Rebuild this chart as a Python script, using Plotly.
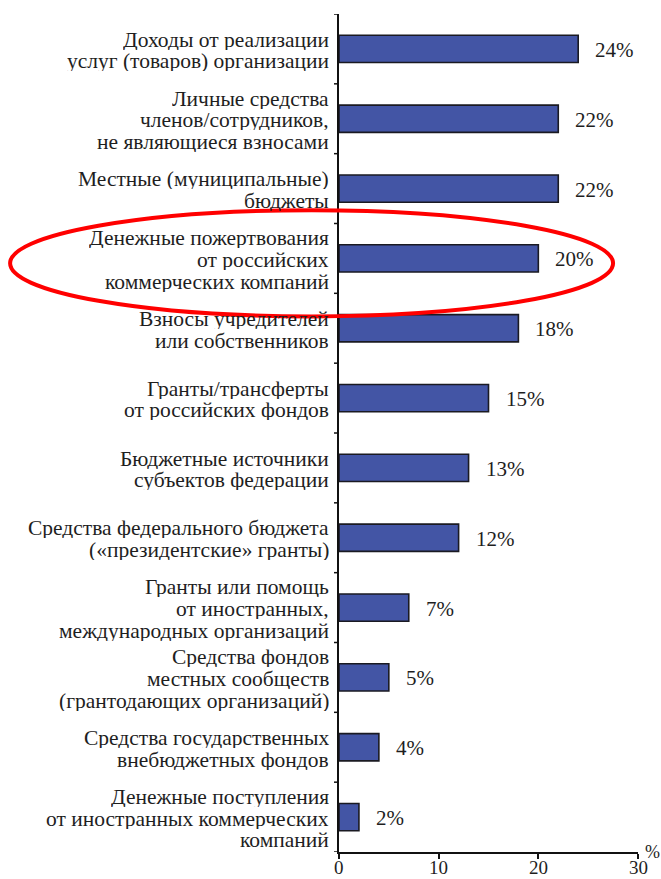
import plotly.graph_objects as go

# category labels, one entry per line of each label
categories = [
    ["Доходы от реализации", "услуг (товаров) организации"],
    ["Личные средства", "членов/сотрудников,", "не являющиеся взносами"],
    ["Местные (муниципальные)", "бюджеты"],
    ["Денежные пожертвования", "от российских", "коммерческих компаний"],
    ["Взносы учредителей", "или собственников"],
    ["Гранты/трансферты", "от российских фондов"],
    ["Бюджетные источники", "субъектов федерации"],
    ["Средства федерального бюджета", "(«президентские» гранты)"],
    ["Гранты или помощь", "от иностранных,", "международных организаций"],
    ["Средства фондов", "местных сообществ", "(грантодающих организаций)"],
    ["Средства государственных", "внебюджетных фондов"],
    ["Денежные поступления", "от иностранных коммерческих", "компаний"],
]
values = [24, 22, 22, 20, 18, 15, 13, 12, 7, 5, 4, 2]
x_ticks = [0, 10, 20, 30]
highlight_index = 3

FONT = "Liberation Serif"
TEXT = "#1e1e1e"
AXIS = "#111111"
FS = 21.5
LINE_H = 21.7

W, H = 661, 879
ML, MR, MT, MB = 339, 23, 14, 27
X_MAX = 30
n = len(categories)

fig = go.Figure()
fig.add_trace(go.Bar(
    x=values,
    y=list(range(n)),
    orientation="h",
    width=0.39,
    marker=dict(color="#4355a5", line=dict(color="#1a1a22", width=1.6)),
    hoverinfo="skip",
))

# multi-line category labels, right-aligned against the axis
for i, lines in enumerate(categories):
    m = len(lines)
    for j, line in enumerate(lines):
        fig.add_annotation(
            x=0, y=i, xref="paper", yref="y",
            text=line, showarrow=False,
            xanchor="right", yanchor="middle", align="right",
            height=21, valign="middle", borderpad=0,
            xshift=-9, yshift=-((j - (m - 1) / 2) * LINE_H) - 1,
            font=dict(family=FONT, size=FS, color=TEXT),
        )

# value labels next to the bars
for i, v in enumerate(values):
    fig.add_annotation(
        x=v, y=i, xref="x", yref="y",
        text=f"{v}%", showarrow=False,
        xanchor="left", yanchor="middle", xshift=15, yshift=-1,
        font=dict(family=FONT, size=21, color=TEXT),
    )

# value-axis tick labels, set close under the tick marks
for t in x_ticks:
    fig.add_annotation(
        x=t, y=0, xref="x", yref="paper",
        text=str(t), showarrow=False,
        xanchor="center", yanchor="top", yshift=-4, borderpad=0,
        font=dict(family=FONT, size=19, color=TEXT),
    )

# "%" unit marker at the end of the value axis
fig.add_annotation(
    x=1, y=0, xref="paper", yref="paper",
    text="%", showarrow=False, xanchor="left", yanchor="middle",
    xshift=5, yshift=0, font=dict(family=FONT, size=18, color=TEXT),
)

# category axis boundary ticks
for k in range(n + 1):
    fig.add_shape(
        type="line", xref="paper", yref="y",
        x0=-5 / (W - ML - MR), x1=0, y0=k - 0.5, y1=k - 0.5,
        line=dict(color=AXIS, width=1.5),
    )

# red ellipse around the highlighted category, in paper coords so it is not clipped
def xp(v):
    return v / X_MAX

def yp(c):
    return 1 - (c + 0.5) / n

fig.add_shape(
    type="circle", xref="paper", yref="paper",
    x0=xp(-33.0), x1=xp(27.5),
    y0=yp(highlight_index + 0.83), y1=yp(highlight_index - 0.69),
    line=dict(color="#ff0000", width=4),
    layer="above",
)

fig.update_layout(
    width=W, height=H,
    margin=dict(l=ML, r=MR, t=MT, b=MB, autoexpand=False),
    paper_bgcolor="white", plot_bgcolor="white",
    showlegend=False,
    font=dict(family=FONT, size=FS, color=TEXT),
    xaxis=dict(
        range=[0, X_MAX], tickvals=x_ticks, showticklabels=False,
        showgrid=False, zeroline=False, showline=True,
        linecolor=AXIS, linewidth=1.5,
        ticks="outside", ticklen=5, tickcolor=AXIS, tickwidth=1.5,
        automargin=False,
    ),
    yaxis=dict(
        range=[n - 0.5, -0.5],
        showticklabels=False, automargin=False,
        showgrid=False, zeroline=False, showline=True,
        linecolor=AXIS, linewidth=1.5, ticks="",
    ),
)

fig.write_html("out.html")
